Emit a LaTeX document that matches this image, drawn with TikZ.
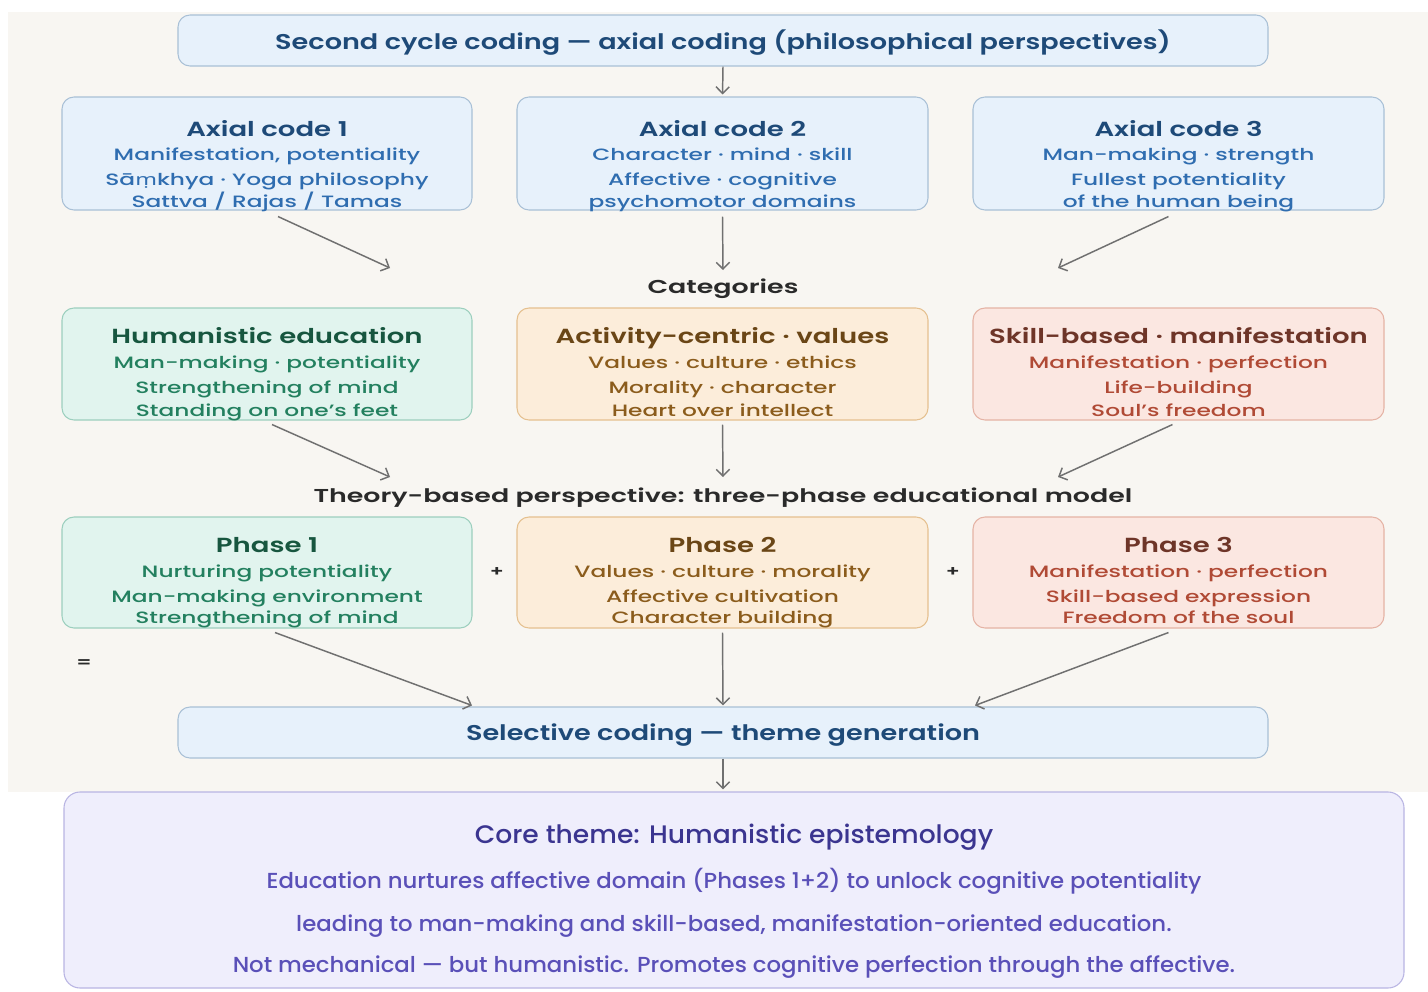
\documentclass[tikz,border=0pt]{standalone}
\usepackage{fontspec}
\usepackage{graphicx}
\setmainfont{Poppins}
\newfontfamily\semib{Poppins SemiBold}
\newfontfamily\medf{Poppins Medium}
\newfontfamily\notof{Noto Sans}
\usetikzlibrary{arrows.meta,fit,calc}
\definecolor{bgbeige}{HTML}{F8F6F2}
\definecolor{bluefill}{HTML}{E7F1FB}
\definecolor{blueline}{HTML}{A9C0D6}
\definecolor{bluettl}{HTML}{1E4A78}
\definecolor{bluebdy}{HTML}{2F6DB0}
\definecolor{greenfill}{HTML}{E1F4EE}
\definecolor{greenline}{HTML}{9CCFBE}
\definecolor{greenttl}{HTML}{17563F}
\definecolor{greenbdy}{HTML}{23805F}
\definecolor{orangefill}{HTML}{FCEDDA}
\definecolor{orangeline}{HTML}{E5C08F}
\definecolor{orangettl}{HTML}{6A4616}
\definecolor{orangebdy}{HTML}{8B5C1C}
\definecolor{redfill}{HTML}{FBE7E1}
\definecolor{redline}{HTML}{E5B3A5}
\definecolor{redttl}{HTML}{6E3528}
\definecolor{redbdy}{HTML}{B04A35}
\definecolor{lavfill}{HTML}{EFEEFC}
\definecolor{lavline}{HTML}{B9B5E3}
\definecolor{lavttl}{HTML}{3B3590}
\definecolor{lavbdy}{HTML}{5A50B8}
\definecolor{darktxt}{HTML}{2A2A2A}
\definecolor{arrgray}{HTML}{707070}
\newcommand{\wh}[1]{\scalebox{1.27}[1]{#1}}
\newcommand{\wt}[1]{\scalebox{1.35}[1]{#1}}
\newcommand{\wb}[1]{\scalebox{1.42}[1]{#1}}
\newcommand{\wl}[1]{\scalebox{1.44}[1]{#1}}
\newcommand{\wc}[1]{\scalebox{1.05}[1]{#1}}
\tikzset{
  box/.style={draw=#1line, fill=#1fill, rounded corners=9pt, line width=0.8pt, inner sep=0pt},
  hdr/.style={anchor=base, inner sep=0pt, font=\semib\fontsize{16}{18}\selectfont, text=bluettl},
  ttl/.style={anchor=base, inner sep=0pt, font=\semib\fontsize{15.3}{17}\selectfont},
  bdy/.style={anchor=base, inner sep=0pt, font=\medf\fontsize{12.3}{14}\selectfont},
  lbl/.style={anchor=base, inner sep=0pt, font=\semib\fontsize{14}{16}\selectfont, text=darktxt},
  sym/.style={inner sep=0pt, font=\semib\fontsize{11}{12}\selectfont, text=darktxt},
  corettl/.style={anchor=base, inner sep=0pt, font=\medf\fontsize{19}{22}\selectfont, text=lavttl},
  corebdy/.style={anchor=base, inner sep=0pt, font=\medf\fontsize{16.3}{19}\selectfont, text=lavbdy},
  arr/.style={draw=arrgray, line width=1.1pt, -{Straight Barb[length=5pt,width=10pt]}}
}
\begin{document}
\begin{tikzpicture}[x=0.75pt,y=-0.75pt]
\useasboundingbox (0,0) rectangle (1428,992);
\fill[white] (0,0) rectangle (1428,992);
\fill[bgbeige] (8,12) rectangle (1428,792);

% boxes
\node[box=blue, fit={(178,15) (1268,66)}] (top) {};
\node[box=blue, fit={(62,97) (472,210)}] (ax1) {};
\node[box=blue, fit={(517,97) (928,210)}] (ax2) {};
\node[box=blue, fit={(973,97) (1384,210)}] (ax3) {};
\node[box=green, fit={(62,308) (472,420)}] (cat1) {};
\node[box=orange, fit={(517,308) (928,420)}] (cat2) {};
\node[box=red, fit={(973,308) (1384,420)}] (cat3) {};
\node[box=green, fit={(62,517) (472,628)}] (ph1) {};
\node[box=orange, fit={(517,517) (928,628)}] (ph2) {};
\node[box=red, fit={(973,517) (1384,628)}] (ph3) {};
\node[box=blue, fit={(178,707) (1268,758)}] (sel) {};
\node[box=lav, fit={(64,792) (1404,988)}, rounded corners=12pt] (core) {};

% top
\node[hdr] (topt) at (723,49) {\wh{Second cycle coding — axial coding (philosophical perspectives)}};

% axial codes
\node[ttl, text=bluettl] (ax1t) at (267,136) {\wt{Axial code 1}};
\node[bdy, text=bluebdy] (ax1a) at (267,160) {\wb{Manifestation, potentiality}};
\node[bdy, text=bluebdy] (ax1b) at (267,185) {\wb{Sā{\notof ṃ}khya · Yoga philosophy}};
\node[bdy, text=bluebdy] (ax1c) at (267,207) {\wb{Sattva / Rajas / Tamas}};
\node[ttl, text=bluettl] (ax2t) at (722.5,136) {\wt{Axial code 2}};
\node[bdy, text=bluebdy] (ax2a) at (722.5,160) {\wb{Character · mind · skill}};
\node[bdy, text=bluebdy] (ax2b) at (722.5,185) {\wb{Affective · cognitive}};
\node[bdy, text=bluebdy] (ax2c) at (722.5,207) {\wb{psychomotor domains}};
\node[ttl, text=bluettl] (ax3t) at (1178.5,136) {\wt{Axial code 3}};
\node[bdy, text=bluebdy] (ax3a) at (1178.5,160) {\wb{Man-making · strength}};
\node[bdy, text=bluebdy] (ax3b) at (1178.5,185) {\wb{Fullest potentiality}};
\node[bdy, text=bluebdy] (ax3c) at (1178.5,207) {\wb{of the human being}};

\node[lbl] (catl) at (723,293) {\wl{Categories}};

% categories
\node[ttl, text=greenttl] (c1t) at (267,343) {\wt{Humanistic education}};
\node[bdy, text=greenbdy] (c1a) at (267,368) {\wb{Man-making · potentiality}};
\node[bdy, text=greenbdy] (c1b) at (267,393) {\wb{Strengthening of mind}};
\node[bdy, text=greenbdy] (c1c) at (267,416) {\wb{Standing on one’s feet}};
\node[ttl, text=orangettl] (c2t) at (722.5,343) {\wt{Activity-centric · values}};
\node[bdy, text=orangebdy] (c2a) at (722.5,368) {\wb{Values · culture · ethics}};
\node[bdy, text=orangebdy] (c2b) at (722.5,393) {\wb{Morality · character}};
\node[bdy, text=orangebdy] (c2c) at (722.5,416) {\wb{Heart over intellect}};
\node[ttl, text=redttl] (c3t) at (1178.5,343) {\wt{Skill-based · manifestation}};
\node[bdy, text=redbdy] (c3a) at (1178.5,368) {\wb{Manifestation · perfection}};
\node[bdy, text=redbdy] (c3b) at (1178.5,393) {\wb{Life-building}};
\node[bdy, text=redbdy] (c3c) at (1178.5,416) {\wb{Soul’s freedom}};

\node[lbl] (thl) at (723,502) {\wl{Theory-based perspective: three-phase educational model}};

% phases
\node[ttl, text=greenttl] (p1t) at (267,552) {\wt{Phase 1}};
\node[bdy, text=greenbdy] (p1a) at (267,577) {\wb{Nurturing potentiality}};
\node[bdy, text=greenbdy] (p1b) at (267,602) {\wb{Man-making environment}};
\node[bdy, text=greenbdy] (p1c) at (267,623) {\wb{Strengthening of mind}};
\node[ttl, text=orangettl] (p2t) at (722.5,552) {\wt{Phase 2}};
\node[bdy, text=orangebdy] (p2a) at (722.5,577) {\wb{Values · culture · morality}};
\node[bdy, text=orangebdy] (p2b) at (722.5,602) {\wb{Affective cultivation}};
\node[bdy, text=orangebdy] (p2c) at (722.5,623) {\wb{Character building}};
\node[ttl, text=redttl] (p3t) at (1178.5,552) {\wt{Phase 3}};
\node[bdy, text=redbdy] (p3a) at (1178.5,577) {\wb{Manifestation · perfection}};
\node[bdy, text=redbdy] (p3b) at (1178.5,602) {\wb{Skill-based expression}};
\node[bdy, text=redbdy] (p3c) at (1178.5,623) {\wb{Freedom of the soul}};

\node[sym] (plus1) at (497,572) {\wb{+}};
\node[sym] (plus2) at (953,572) {\wb{+}};
\node[sym] (eq) at (84,664) {\wb{=}};

\node[hdr] (selt) at (723,740) {\wh{Selective coding — theme generation}};

% core
\node[corettl] (coret) at (734,843) {\wc{Core theme: Humanistic epistemology}};
\node[corebdy] (corea) at (734,888) {\wc{Education nurtures affective domain (Phases 1+2) to unlock cognitive potentiality}};
\node[corebdy] (coreb) at (734,931) {\wc{leading to man-making and skill-based, manifestation-oriented education.}};
\node[corebdy] (corec) at (734,972) {\wc{Not mechanical — but humanistic. Promotes cognitive perfection through the affective.}};

% connectors
\coordinate (k1) at (390,268);
\coordinate (k2) at (723,270);
\coordinate (k3) at (1058,268);
\coordinate (m1) at (390,477);
\coordinate (m2) at (723,477);
\coordinate (m3) at (1058,477);
\draw[arr, shorten >=1.5pt] (top.south) -- (ax2.north);
\draw[arr] ($(ax1.south)+(11,6)$) -- (k1);
\draw[arr] ($(ax2.south)+(0,6)$) -- (k2);
\draw[arr] ($(ax3.south)+(-10,6)$) -- (k3);
\draw[arr] ($(cat1.south)+(5,4)$) -- (m1);
\draw[arr] ($(cat2.south)+(0,4)$) -- (m2);
\draw[arr] ($(cat3.south)+(-6,4)$) -- (m3);
\draw[arr] ($(ph1.south)+(8,4)$) -- ($(sel.north)+(-251,-1)$);
\draw[arr] ($(ph2.south)+(0,4)$) -- ($(sel.north)+(0,-1)$);
\draw[arr] ($(ph3.south)+(-10,4)$) -- ($(sel.north)+(252,-1)$);
\draw[arr, shorten >=1.5pt] (sel.south) -- (sel.south |- core.north);
\end{tikzpicture}
\end{document}
